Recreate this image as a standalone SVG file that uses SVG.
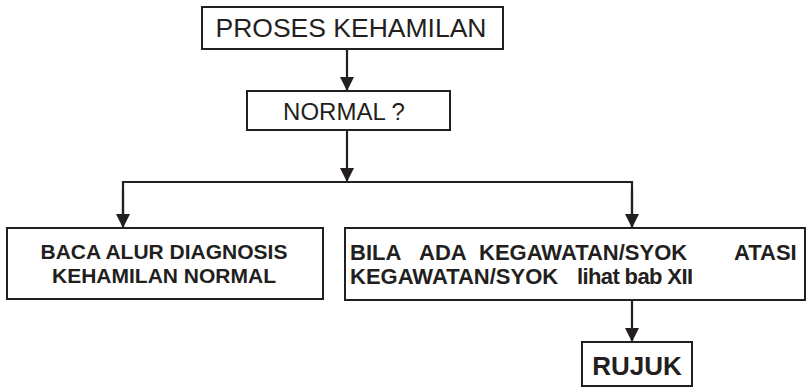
<svg xmlns="http://www.w3.org/2000/svg" width="807" height="389" viewBox="0 0 807 389">
  <style>
    .box { fill: #ffffff; stroke: #231f20; stroke-width: 2; }
    .wire { fill: none; stroke: #231f20; stroke-width: 2.2; }
    .t { font-family: "Liberation Sans", Arial, sans-serif; fill: #231f20; }
    .reg { font-size: 24px; }
    .bold { font-size: 21px; font-weight: bold; }
    .bold2 { font-size: 22px; font-weight: bold; }
  </style>
  <defs>
    <marker id="arrow" viewBox="0 0 14 14" refX="14" refY="7" markerWidth="14" markerHeight="14" markerUnits="userSpaceOnUse" orient="auto">
      <path d="M0,0 L14,7 L0,14 Z" fill="#231f20"/>
    </marker>
  </defs>

  <rect width="807" height="389" fill="#ffffff"/>

  <g id="connectors">
    <line class="wire" x1="347" y1="49" x2="347" y2="91" marker-end="url(#arrow)"/>
    <line class="wire" x1="347" y1="130" x2="347" y2="182" marker-end="url(#arrow)"/>
    <polyline class="wire" points="123,228 123,182 632,182 632,228"/>
    <line class="wire" x1="123" y1="190" x2="123" y2="228" marker-end="url(#arrow)"/>
    <line class="wire" x1="632" y1="190" x2="632" y2="228" marker-end="url(#arrow)"/>
    <line class="wire" x1="632" y1="300" x2="632" y2="342" marker-end="url(#arrow)"/>
  </g>

  <g id="proses">
    <rect class="box" x="202" y="7" width="301" height="42"/>
    <text class="t" x="351" y="37" font-size="26.5" text-anchor="middle">PROSES KEHAMILAN</text>
  </g>

  <g id="normal">
    <rect class="box" x="247" y="91" width="203" height="39"/>
    <text class="t reg" x="344" y="120" text-anchor="middle">NORMAL ?</text>
  </g>

  <g id="baca">
    <rect class="box" x="7" y="228" width="316" height="71"/>
    <text class="t bold" x="164" y="259" text-anchor="middle">BACA ALUR DIAGNOSIS</text>
    <text class="t bold" x="164" y="283" text-anchor="middle">KEHAMILAN NORMAL</text>
  </g>

  <g id="kegawatan">
    <rect class="box" x="345" y="228" width="460" height="72"/>
    <text class="t bold2" y="260"><tspan x="350">BILA</tspan><tspan x="419">ADA</tspan><tspan x="479">KEGAWATAN/SYOK</tspan></text>
    <text class="t bold2" x="734" y="260">ATASI</text>
    <text class="t bold2" x="350" y="284">KEGAWATAN/SYOK</text>
    <text class="t bold2" x="577" y="284" textLength="116">lihat bab XII</text>
  </g>

  <g id="rujuk">
    <rect class="box" x="582" y="342" width="110" height="44"/>
    <text class="t" x="637" y="375" font-size="26" font-weight="bold" text-anchor="middle">RUJUK</text>
  </g>
</svg>
